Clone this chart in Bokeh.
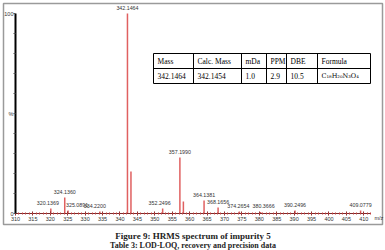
from bokeh.plotting import figure
from bokeh.models import ColumnDataSource, FixedTicker, LinearAxis, Range1d
from bokeh.core.properties import value
from bokeh.embed import file_html
from bokeh.resources import INLINE

# ---- data ----
mz = [320.1369, 324.1360, 325.0891, 334.2200, 342.1464, 343.15, 352.2496,
      357.1990, 358.20, 364.1381, 368.1656, 374.2654, 380.3666, 390.2496, 409.0779]
intensity = [2.5, 8.0, 1.5, 1.0, 100.0, 21.0, 2.5, 28.0, 6.0, 6.5, 3.0, 1.0, 0.8, 1.5, 1.5]
peak_labels = ["320.1369", "324.1360", "325.0891", "334.2200", "342.1464", "", "352.2496",
               "357.1990", "", "364.1381", "368.1656", "374.2654", "380.3666", "390.2496", "409.0779"]
x_ticks = list(range(310, 411, 5))
x_minor = list(range(310, 413, 1))
y_ticks = [0, 50, 100]
y_tick_labels = {0: "0", 50: "%", 100: "100"}
y_minor = [10, 20, 30, 40, 60, 70, 80, 90]
table_header = ["Mass", "Calc. Mass", "mDa", "PPM", "DBE", "Formula"]
table_row = ["342.1464", "342.1454", "1.0", "2.9", "10.5", "C\u2081\u2088H\u2082\u2080N\u2083O\u2084"]
caption = "Figure 9: HRMS spectrum of impurity 5"
next_caption = "Table 3: LOD-LOQ, recovery and precision data"

# label nudges (pixels) so that neighbouring peak labels do not collide
label_nudge = [-3, 0, 9, -5, 0, 0, -3, 0, 0, 0, 0, -1, 3, 0, 0]

# ---- layout (pixels); the frame covers the whole canvas ----
W, H = 385, 250
AX_X, PX_PER_MZ = 15, 3.483      # pixel of m/z 310, pixels per m/z unit
AX_Y, PX_PER_PCT = 213, 2.0      # pixel of 0 %, pixels per %
X0 = 310 - AX_X / PX_PER_MZ
X1 = X0 + W / PX_PER_MZ
Y1 = AX_Y / PX_PER_PCT
Y0 = Y1 - H / PX_PER_PCT


def dx(px):
    return X0 + px / PX_PER_MZ


def dy(py):
    return Y1 - py / PX_PER_PCT


p = figure(width=W, height=H, output_backend="svg", toolbar_location=None,
           x_range=Range1d(X0, X1), y_range=Range1d(Y0, Y1),
           x_axis_type=None, y_axis_type=None,
           min_border=0, min_border_left=0, min_border_right=0,
           min_border_top=0, min_border_bottom=0)
p.outline_line_color = None
p.grid.visible = False
p.background_fill_color = "white"
p.border_fill_color = "white"

# grey frame box around the spectrum
p.quad(left=[dx(3)], right=[dx(382)], top=[dy(3)], bottom=[dy(224)],
       fill_color=None, line_color="#9a9a9a", line_width=1.5)

# peaks
src = ColumnDataSource(dict(mz=mz, inten=intensity, lab=peak_labels,
                            base=[0] * len(mz), nudge=label_nudge))
p.segment(x0="mz", y0="base", x1="mz", y1="inten", source=src,
          line_color="#e06060", line_width=1.5)
p.text(x="mz", y="inten", text="lab", source=src, text_align="center",
       text_baseline="bottom", x_offset="nudge", y_offset=-3.5,
       text_font=value("Liberation Sans"),
       text_font_size="5.3px", text_color="#333333")

# axes fixed inside the frame
xa = LinearAxis(fixed_location=0)
xa.ticker = FixedTicker(ticks=x_ticks, minor_ticks=x_minor)
xa.bounds = (310, 412)
xa.axis_line_color = "#7a2a2a"
xa.major_tick_in = 2
xa.major_tick_out = 2
xa.minor_tick_in = 1
xa.minor_tick_out = 1
xa.major_tick_line_color = "#7a2a2a"
xa.minor_tick_line_color = "#c04040"
xa.major_label_standoff = 1
xa.major_label_text_font = "Liberation Sans"
xa.major_label_text_font_size = "5.5px"
xa.major_label_text_color = "#333333"
p.add_layout(xa, "below")

ya = LinearAxis(fixed_location=310)
ya.ticker = FixedTicker(ticks=y_ticks, minor_ticks=y_minor)
ya.major_label_overrides = y_tick_labels
ya.bounds = (0, 100)
ya.axis_line_width = 2
ya.axis_line_color = "black"
ya.major_tick_in = 0
ya.major_tick_out = 2
ya.minor_tick_in = 0
ya.minor_tick_out = 2
ya.major_tick_line_color = "#555555"
ya.minor_tick_line_color = "#555555"
ya.major_label_standoff = 0
ya.major_label_text_font = "Liberation Sans"
ya.major_label_text_font_size = "5.5px"
ya.major_label_text_color = "#333333"
p.add_layout(ya, "left")

p.text(x=[dx(374)], y=[0], text=["m/z"], text_baseline="top", y_offset=1,
       text_font=value("Liberation Sans"), text_font_size="5.5px", text_color="#333333")

# inset table
col_px = [153, 193, 241, 266, 286, 317, 370]
row_px = [53, 68, 83]
xs, ys = [], []
for cp in col_px:
    xs.append([dx(cp), dx(cp)])
    ys.append([dy(row_px[0]), dy(row_px[-1])])
for rp in row_px:
    xs.append([dx(col_px[0]), dx(col_px[-1])])
    ys.append([dy(rp), dy(rp)])
p.multi_line(xs=xs, ys=ys, line_color="black", line_width=1)

tx, ty, tt = [], [], []
for i, (h, r) in enumerate(zip(table_header[:-1], table_row[:-1])):
    tx += [dx(col_px[i] + 4), dx(col_px[i] + 4)]
    ty += [dy((row_px[0] + row_px[1]) / 2), dy((row_px[1] + row_px[2]) / 2)]
    tt += [h, r]
tx.append(dx(col_px[5] + 4))
ty.append(dy((row_px[0] + row_px[1]) / 2))
tt.append(table_header[-1])
p.text(x=tx, y=ty, text=tt, text_align="left", text_baseline="middle",
       text_font=value("Liberation Serif"), text_font_size="7.5px", text_color="black")
p.text(x=[dx(col_px[5] + 4)], y=[dy((row_px[1] + row_px[2]) / 2)], text=[table_row[-1]],
       text_align="left", text_baseline="middle",
       text_font=value("DejaVu Serif"), text_font_size="6.5px", text_color="black")

# captions below the box
p.text(x=[dx(192.5)], y=[dy(235)], text=[caption],
       text_align="center", text_baseline="middle", text_font=value("Liberation Serif"),
       text_font_style="bold", text_font_size="9px", text_color="#222222")
p.text(x=[dx(192.5)], y=[dy(244.5)], text=[next_caption],
       text_align="center", text_baseline="middle", text_font=value("Liberation Serif"),
       text_font_style="bold", text_font_size="8px", text_color="#222222")

open("out.html", "w").write(file_html(p, INLINE))
